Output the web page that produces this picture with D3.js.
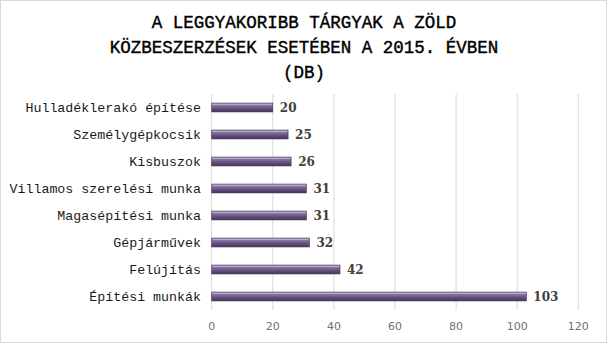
<!DOCTYPE html>
<html><head><meta charset="utf-8">
<script src="https://cdn.jsdelivr.net/npm/d3@7/dist/d3.min.js"></script>
<style>html,body{margin:0;padding:0;background:#fff;}svg{display:block;}</style>
</head><body>
<script>
const categories = ["Hulladéklerakó építése","Személygépkocsik","Kisbuszok","Villamos szerelési munka","Magasépítési munka","Gépjárművek","Felújítás","Építési munkák"];
const values = [20,25,26,31,31,32,42,103];
const ticks = [0,20,40,60,80,100,120];
const titleLines = ["A LEGGYAKORIBB TÁRGYAK A ZÖLD","KÖZBESZERZÉSEK ESETÉBEN A 2015. ÉVBEN","(DB)"];

const W=607,H=343;
const svg=d3.select("body").append("svg").attr("width",W).attr("height",H);
svg.append("rect").attr("x",0.5).attr("y",0.5).attr("width",W-1).attr("height",H-1).attr("fill","#fff").attr("stroke","#d9d9d9");

const defs=svg.append("defs");
const g1=defs.append("linearGradient").attr("id","bar").attr("x1",0).attr("y1",0).attr("x2",0).attr("y2",1);
[[0,"#b3a2c8"],[0.25,"#8a75a6"],[0.6,"#66507f"],[1,"#46355c"]].forEach(([o,c])=>g1.append("stop").attr("offset",o).attr("stop-color",c));

const x=d3.scaleLinear().domain([0,120]).range([211.7,578.3]);
const y=d3.scaleBand().domain(categories).range([94,310]).paddingInner(0.67).paddingOuter(0.335);

svg.append("g").selectAll("line").data(ticks).join("line")
 .attr("x1",d=>x(d)).attr("x2",d=>x(d)).attr("y1",94).attr("y2",310)
 .attr("stroke","#d9d9d9").attr("stroke-width",1);

svg.append("g").selectAll("rect").data(values).join("rect")
 .attr("x",x(0)).attr("y",(d,i)=>y(categories[i])).attr("width",d=>x(d)-x(0)).attr("height",y.bandwidth())
 .attr("fill","url(#bar)").attr("stroke","#3e2f52").attr("stroke-width",0.6);
svg.append("g").selectAll("line").data(values).join("line")
 .attr("x1",x(0)+1).attr("x2",d=>x(d)-1).attr("y1",(d,i)=>y(categories[i])+1.5).attr("y2",(d,i)=>y(categories[i])+1.5)
 .attr("stroke","#c7b9d8").attr("stroke-width",1).attr("opacity",0.7);

svg.append("g").selectAll("text").data(values).join("text")
 .attr("x",d=>x(d)+7).attr("y",(d,i)=>y(categories[i])+y.bandwidth()/2).attr("dy","0.36em")
 .attr("font-family","DejaVu Serif").attr("font-weight","bold").attr("font-size",12).attr("fill","#404040")
 .text(d=>d);

svg.append("g").selectAll("text").data(categories).join("text")
 .attr("x",201).attr("y",d=>y(d)+y.bandwidth()/2).attr("dy","0.35em").attr("text-anchor","end")
 .attr("font-family","Liberation Mono").attr("font-size",13.3).attr("fill","#1a1a1a").text(d=>d);

svg.append("g").selectAll("text").data(ticks).join("text")
 .attr("x",d=>x(d)).attr("y",330).attr("text-anchor","middle")
 .attr("font-family","DejaVu Sans").attr("font-size",11).attr("fill","#707070").text(d=>d);

svg.append("g").selectAll("text").data(titleLines).join("text")
 .attr("x",304).attr("y",(d,i)=>28+i*25).attr("text-anchor","middle")
 .attr("font-family","Liberation Mono").attr("font-size",17.5).attr("fill","#000")
 .attr("stroke","#000").attr("stroke-width",0.4)
 .text(d=>d);
</script>
</body></html>
